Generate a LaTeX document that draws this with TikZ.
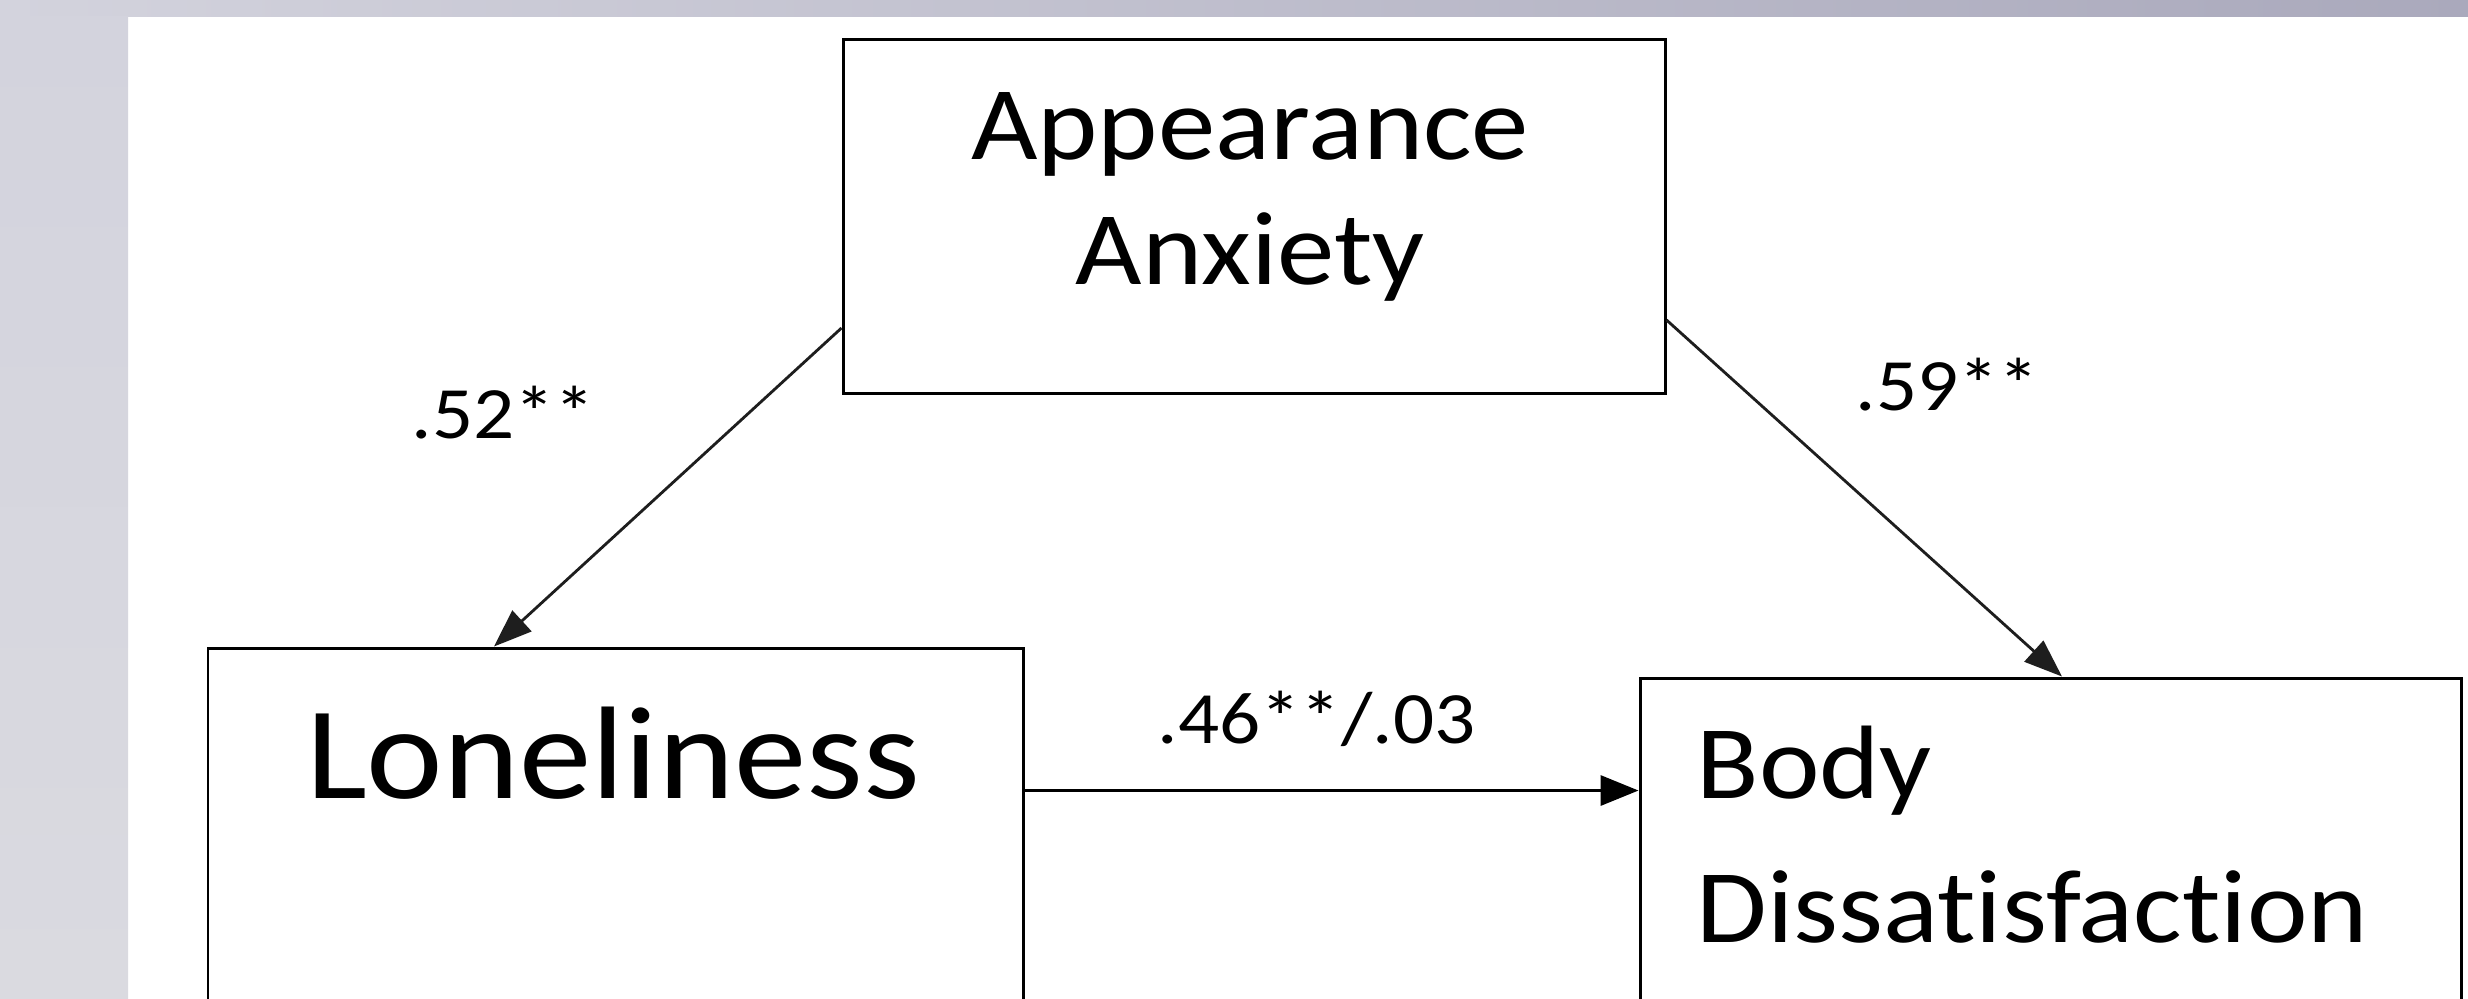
\documentclass[tikz,border=0pt]{standalone}
\usepackage{fontspec}
\setmainfont{Carlito}[FakeStretch=1.1, Ligatures={NoCommon,NoRare}]
\usetikzlibrary{arrows.meta,calc}
\definecolor{stripL}{HTML}{D3D3DD}
\definecolor{stripR}{HTML}{AAA9BC}
\definecolor{stripB}{HTML}{DADAE0}
\definecolor{arrowgray}{HTML}{1E1E1E}
\begin{document}
\begin{tikzpicture}[
  box/.style={draw=black, line width=0.85pt, rectangle, inner sep=0pt, fill=white},
  conn/.style={draw=arrowgray, line width=0.8pt, -{Triangle[length=0.38cm,width=0.28cm]}},
  conn2/.style={draw=black, line width=0.95pt, -{Triangle[length=0.38cm,width=0.3cm]}},
  bigtxt/.style={font=\fontsize{29.7pt}{35.6pt}\selectfont, inner sep=0pt},
  lonetxt/.style={font=\fontsize{37.5pt}{45pt}\selectfont, inner sep=0pt},
  bodytxt/.style={font=\fontsize{29.7pt}{41pt}\selectfont, inner sep=0pt},
  coef/.style={font=\fontsize{21pt}{25pt}\selectfont, inner sep=0pt, anchor=base west}
]
\useasboundingbox (0,0) rectangle (24.68,-9.98);
\begin{scope}
\clip (0,0) rectangle (24.68,-9.98);
\fill[white] (0,0) rectangle (24.68,-9.98);
\shade[left color=stripL, right color=stripR] (0,0) rectangle (24.68,-0.16);
\shade[top color=stripL, bottom color=stripB] (0,-0.16) rectangle (1.28,-9.98);

% boxes
\node[box, minimum width=8.22cm, minimum height=3.54cm] (A) at (12.54,-2.16) {};
\node[box, minimum width=8.15cm, minimum height=3.62cm] (L) at (6.155,-8.29) {};
\node[box, minimum width=8.21cm, minimum height=3.32cm] (B) at (20.505,-8.44) {};

% box texts
\node[bigtxt, anchor=base] (At) at (12.50,-1.59)
  {\begin{tabular}[t]{@{}c@{}}Appearance\\Anxiety\end{tabular}};
\node[lonetxt, anchor=base] (Lt) at (6.13,-7.98) {Loneliness};
\node[bodytxt, anchor=base west] (Bt) at (16.96,-7.98)
  {\begin{tabular}[t]{@{}l@{}}Body\\Dissatisfaction\end{tabular}};

% connectors
\draw[conn] ([yshift=-1.12cm]A.west) -- ([xshift=-1.215cm]L.north);
\draw[conn] ([yshift=-1.04cm]A.east) -- ([xshift=0.115cm]B.north);
\draw[conn2] ([yshift=-1.44cm]L.north east) -- ([yshift=-1.44cm]L.north east -| B.west);

% coefficients
\node[coef] (c1) at (4.11,-4.38) {.52**};
\node[coef] (c2) at (18.55,-4.10) {.59**};
\node[coef] (c3) at (11.57,-7.43) {.46**/.03};
\end{scope}
\end{tikzpicture}
\end{document}
